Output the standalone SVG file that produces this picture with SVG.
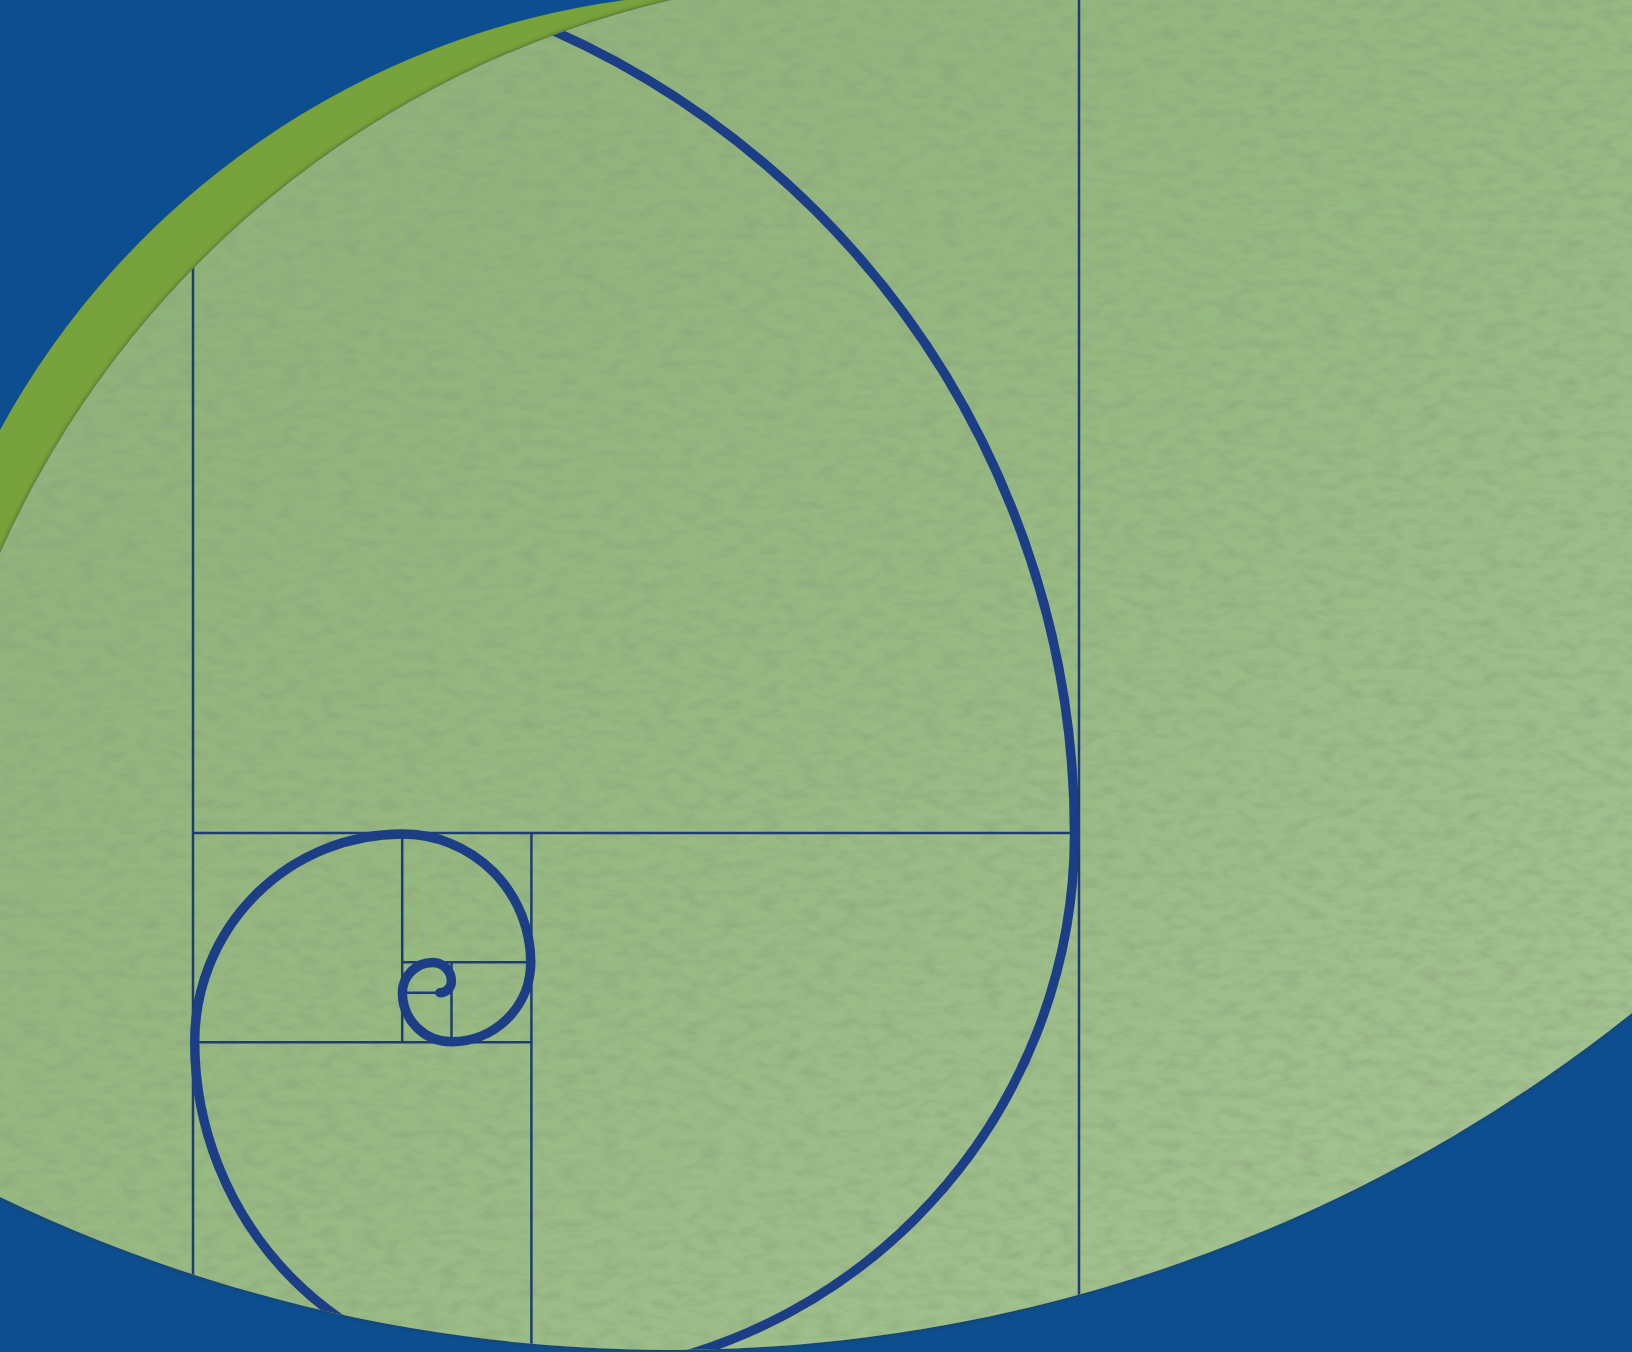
<svg xmlns="http://www.w3.org/2000/svg" width="1632" height="1352" viewBox="0 0 1632 1352">
  <defs>
    <style>
      .grid{fill:none;stroke:#1f3c6e;stroke-width:2.5}
      .spiral{fill:none;stroke:#1b3e87;stroke-width:9.5;stroke-linecap:round}
    </style>
    <linearGradient id="paperGrad" x1="0" y1="0" x2="1" y2="1">
      <stop offset="0" stop-color="#8db077"/>
      <stop offset="0.5" stop-color="#97b982"/>
      <stop offset="1" stop-color="#a6c594"/>
    </linearGradient>
    <filter id="paper" x="-2%" y="-2%" width="104%" height="104%">
      <feTurbulence type="fractalNoise" baseFrequency="0.05 0.1" numOctaves="3" seed="7" result="n"/>
      <feColorMatrix in="n" type="matrix" values="0 0 0 0 0.25  0 0 0 0 0.35  0 0 0 0 0.2  1.1 0 0 0 -0.45" result="spots"/>
      <feComposite in="spots" in2="SourceGraphic" operator="in" result="s"/>
      <feGaussianBlur in="SourceAlpha" stdDeviation="2.2" result="b"/>
      <feFlood flood-color="#2e3320" flood-opacity="0.75"/>
      <feComposite in2="b" operator="in" result="shadow"/>
      <feMerge>
        <feMergeNode in="shadow"/>
        <feMergeNode in="SourceGraphic"/>
        <feMergeNode in="s"/>
      </feMerge>
    </filter>
    <clipPath id="paperClip">
      <path d="M0,553 A975,975 0 0 1 671,0 L1632,0 L1632,1013 A1543,1543 0 0 1 0,1197 Z"/>
    </clipPath>
  </defs>

  <g id="background">
    <rect x="0" y="0" width="1632" height="1352" fill="#0d4e90"/>
    <path id="green-band" d="M0,430 A840,840 0 0 1 625,0 L671,0 A975,975 0 0 0 0,553 Z" fill="#78a23c"/>
    <path id="paper-area" d="M0,553 A975,975 0 0 1 671,0 L1632,0 L1632,1013 A1543,1543 0 0 1 0,1197 Z" fill="url(#paperGrad)" filter="url(#paper)"/>
  </g>

  <g id="golden-rectangles" clip-path="url(#paperClip)">
    <line class="grid" x1="193" y1="-53" x2="193" y2="1381"/>
    <line class="grid" x1="1079" y1="-53" x2="1079" y2="1381"/>
    <line class="grid" x1="193" y1="833" x2="1079" y2="833"/>
    <line class="grid" x1="531.4" y1="833" x2="531.4" y2="1381"/>
    <line class="grid" x1="193" y1="1042.2" x2="531.4" y2="1042.2"/>
    <line class="grid" x1="402.2" y1="833" x2="402.2" y2="1042.2"/>
    <line class="grid" x1="402.2" y1="962.3" x2="531.4" y2="962.3"/>
    <line class="grid" x1="451.5" y1="962.3" x2="451.5" y2="1042.2"/>
    <line class="grid" x1="402.2" y1="992.8" x2="451.5" y2="992.8"/>
  </g>

  <g id="spiral" clip-path="url(#paperClip)">
    <path class="spiral" transform="translate(437 984) scale(0.993) translate(-437 -984)"
      d="M193,-53 A886,886 0 0 1 1079,833
         A547.58,547.58 0 0 1 531.42,1380.58
         A338.42,338.42 0 0 1 193,1042.16
         A209.16,209.16 0 0 1 402.16,833
         A129.27,129.27 0 0 1 531.42,962.27
         A79.89,79.89 0 0 1 451.53,1042.16
         A49.38,49.38 0 0 1 402.16,992.78
         A30.52,30.52 0 0 1 432.68,962.27
         A18.86,18.86 0 0 1 451.53,981.13
         A11.66,11.66 0 0 1 439.87,992.78"/>
  </g>
</svg>
